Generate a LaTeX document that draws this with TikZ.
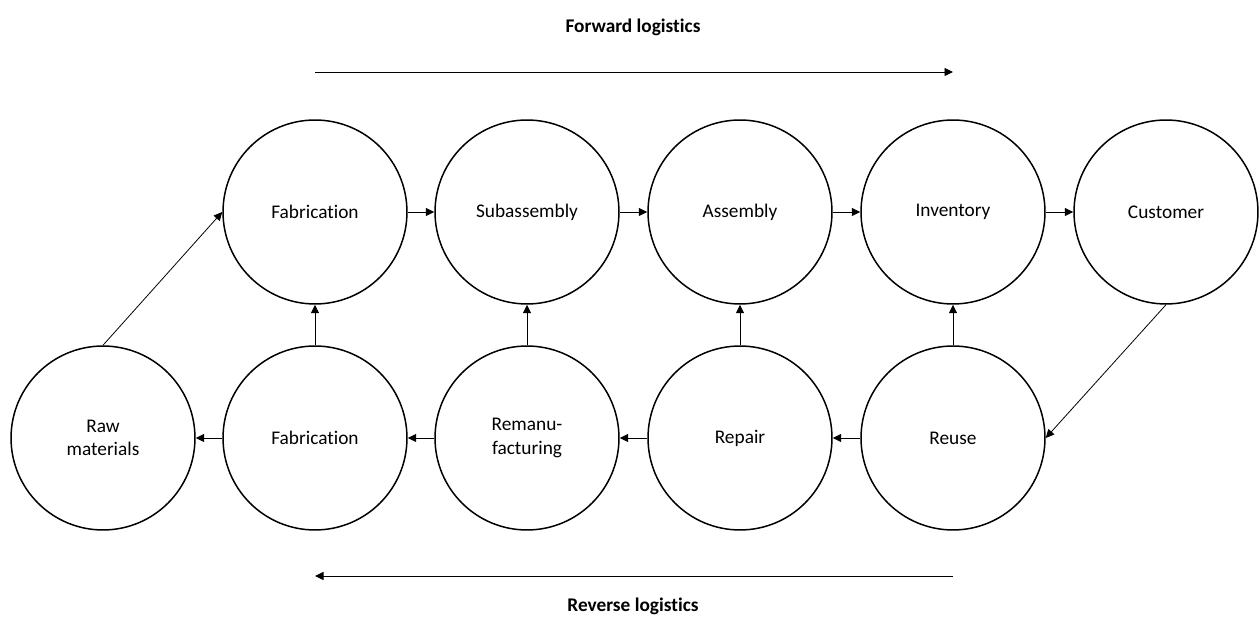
\documentclass[tikz,border=0pt]{standalone}
\usepackage{fontspec}
\setmainfont[Ligatures=NoCommon]{Carlito}
\usetikzlibrary{arrows.meta}

\tikzset{
	stage/.style={draw, circle, line width=0.85pt, minimum size=3.68cm, inner sep=0pt, align=center, font=\fontsize{11}{13.5}\selectfont},
	flow/.style={-{Triangle[length=0.17cm, width=0.16cm]}, line width=0.45pt},
	title/.style={font=\fontsize{11}{13.5}\selectfont\bfseries}
}

\begin{document}
\begin{tikzpicture}[x=0.02cm, y=-0.02cm]
	
	\useasboundingbox (0,0) rectangle (1259,624);
	
	% forward chain
	\node[stage] (fabTop) at (315,212) {Fabrication};
	\node[stage] (subasm) at (527,212) {Subassembly};
	\node[stage] (asm) at (740,212) {Assembly};
	\node[stage] (inv) at (953,212) {Inventory};
	\node[stage] (cust) at (1166,212) {Customer};
	
	% reverse chain
	\node[stage] (raw) at (103,438) {Raw\\materials};
	\node[stage] (fabBot) at (315,438) {Fabrication};
	\node[stage] (reman) at (527,438) {Remanu-\\facturing};
	\node[stage] (repair) at (740,438) {Repair};
	\node[stage] (reuse) at (953,438) {Reuse};
	
	\draw[flow] (fabTop) -- (subasm);
	\draw[flow] (subasm) -- (asm);
	\draw[flow] (asm) -- (inv);
	\draw[flow] (inv) -- (cust);
	
	\draw[flow] (reuse) -- (repair);
	\draw[flow] (repair) -- (reman);
	\draw[flow] (reman) -- (fabBot);
	\draw[flow] (fabBot) -- (raw);
	
	\draw[flow] (fabBot) -- (fabTop);
	\draw[flow] (reman) -- (subasm);
	\draw[flow] (repair) -- (asm);
	\draw[flow] (reuse) -- (inv);
	
	\draw[flow] (raw.north) -- (fabTop.west);
	\draw[flow] (cust.south) -- (reuse.east);
	
	% logistics directions
	\coordinate (fwdStart) at (315,72);
	\coordinate (fwdEnd) at (953,72);
	\coordinate (revStart) at (953,576);
	\coordinate (revEnd) at (315,576);
	\draw[flow] (fwdStart) -- (fwdEnd);
	\draw[flow] (revStart) -- (revEnd);
	\node[title] (fwdLabel) at (633,27) {Forward logistics};
	\node[title] (revLabel) at (633,606) {Reverse logistics};
	
\end{tikzpicture}
\end{document}
